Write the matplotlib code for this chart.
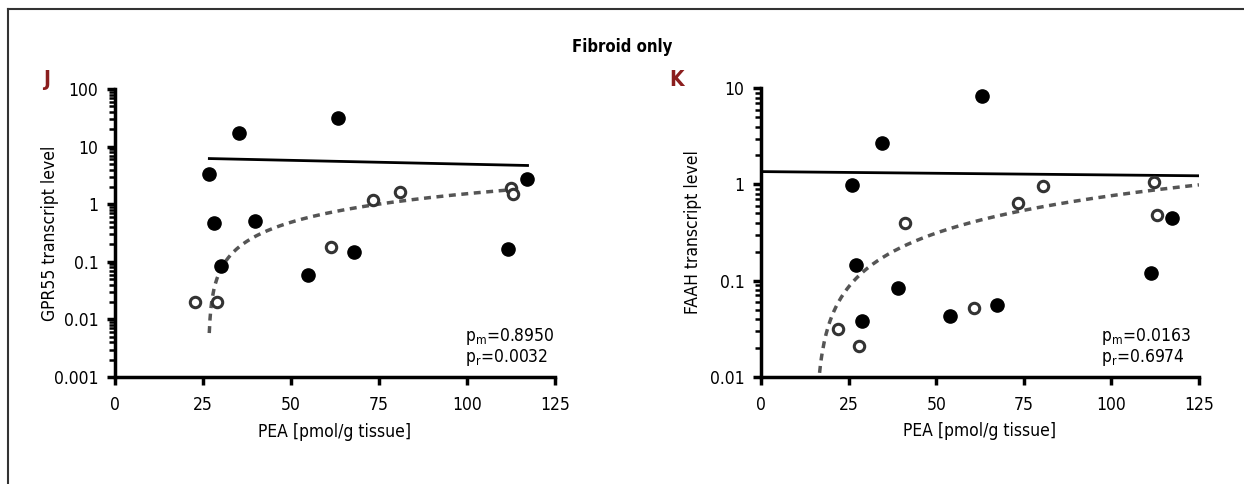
import numpy as np
import matplotlib
matplotlib.use('Agg')
import matplotlib.pyplot as plt
from matplotlib import ticker
from matplotlib.lines import Line2D

plt.rcParams['font.family'] = ['DejaVu Sans']
plt.rcParams['font.stretch'] = 'condensed'
plt.rcParams['mathtext.fontset'] = 'custom'
plt.rcParams['mathtext.rm'] = 'DejaVu Sans'

# panel J - GPR55
j_filled_x = [26.8, 35.3, 63.3, 28.0, 39.7, 30.0, 54.7, 67.8, 111.6, 117.0]
j_filled_y = [3.4, 17.3, 31, 0.47, 0.52, 0.085, 0.060, 0.15, 0.17, 2.75]
j_open_x = [22.7, 28.9, 61.4, 73.4, 81.0, 112.5, 113.0]
j_open_y = [0.0204, 0.0204, 0.18, 1.16, 1.6, 1.9, 1.5]
j_solid_x = [26.8, 117.2]
j_solid_y = [6.2, 4.7]
j_dash_x0, j_dash_slope, j_dash_start, j_dash_end = 26.5, 0.0207, 26.78, 113.0
j_p = ['0.8950', '0.0032']

# panel K - FAAH
k_filled_x = [63.1, 34.5, 26.0, 27.1, 39.1, 28.8, 53.9, 67.3, 111.3, 117.3]
k_filled_y = [8.4, 2.7, 0.98, 0.145, 0.083, 0.038, 0.043, 0.056, 0.119, 0.45]
k_open_x = [22.0, 28.0, 41.0, 60.8, 73.3, 80.5, 112.2, 113.0]
k_open_y = [0.031, 0.021, 0.40, 0.052, 0.64, 0.96, 1.07, 0.48]
k_solid_x = [0, 125]
k_solid_y = [1.36, 1.23]
k_dash_x0, k_dash_slope, k_dash_start, k_dash_end = 15.5, 0.00904, 16.4, 125.0
k_p = ['0.0163', '0.6974']

fig = plt.figure(figsize=(12.44, 4.84), dpi=100)

# frame lines
fig.add_artist(Line2D([8/1244, 1], [1-9/484, 1-9/484], color='#333333', lw=1.5))
fig.add_artist(Line2D([8/1244, 8/1244], [0, 1-9/484], color='#333333', lw=1.5))

fig.text(622/1244, 1-47/484, 'Fibroid only', ha='center', va='center',
         fontsize=12, fontweight='bold')


def panel(rect, letter, letter_pos, fx, fy, ox, oy, sx, sy, x0, slope, xstart,
          xend, ylim, ylabel, ptxt, ptx, ylab_x):
    ax = fig.add_axes(rect)
    xs = np.linspace(xstart, xend, 400)
    ax.plot(xs, slope * (xs - x0), color='#555555', lw=2.5, ls=(0, (2, 1.6)),
            zorder=2)
    ax.plot(sx, sy, color='black', lw=2, zorder=2)
    ax.plot(fx, fy, 'o', ms=9.5, mfc='black', mec='black', zorder=3)
    ax.plot(ox, oy, 'o', ms=7.5, mfc='white', mec='#333333', mew=2.2, zorder=3)
    ax.set_yscale('log')
    ax.set_xlim(0, 125)
    ax.set_ylim(*ylim)
    ax.set_xticks([0, 25, 50, 75, 100, 125])
    ax.yaxis.set_major_formatter(ticker.FuncFormatter(lambda v, p: '%g' % v))
    ax.yaxis.set_minor_locator(ticker.LogLocator(base=10, subs=np.arange(2, 10)))
    ax.yaxis.set_minor_formatter(ticker.NullFormatter())
    for s in ['top', 'right']:
        ax.spines[s].set_visible(False)
    for s in ['left', 'bottom']:
        ax.spines[s].set_linewidth(2.5)
    ax.tick_params(which='major', length=6, width=2.5, labelsize=12.5, pad=6)
    ax.tick_params(axis='x', which='major', pad=8)
    ax.tick_params(which='minor', length=4, width=1.8)
    ax.set_xlabel('PEA [pmol/g tissue]', fontsize=12.5, labelpad=6)
    ax.set_ylabel(ylabel, fontsize=12.5)
    ax.yaxis.set_label_coords(ylab_x, 0.5)
    ax.text(ptx, 0.14, r'p$_\mathrm{m}$=' + ptxt[0], transform=ax.transAxes,
            fontsize=12.5, va='center')
    ax.text(ptx, 0.068, r'p$_\mathrm{r}$=' + ptxt[1], transform=ax.transAxes,
            fontsize=12.5, va='center')
    fig.text(letter_pos[0] / 1244, 1 - letter_pos[1] / 484, letter,
             color='#8B1E1E', fontsize=15, fontweight='bold', ha='center',
             va='center')
    return ax


panel([115/1244, 1-377/484, 440/1244, 288/484], 'J', (47, 80),
      j_filled_x, j_filled_y, j_open_x, j_open_y, j_solid_x, j_solid_y,
      j_dash_x0, j_dash_slope, j_dash_start, j_dash_end, (0.001, 100),
      'GPR55 transcript level', j_p, 0.795, -0.127)
panel([761/1244, 1-376.7/484, 438/1244, 288.4/484], 'K', (677, 80),
      k_filled_x, k_filled_y, k_open_x, k_open_y, k_solid_x, k_solid_y,
      k_dash_x0, k_dash_slope, k_dash_start, k_dash_end, (0.01, 10),
      'FAAH transcript level', k_p, 0.776, -0.135)

fig.savefig('out.png', dpi=100)
